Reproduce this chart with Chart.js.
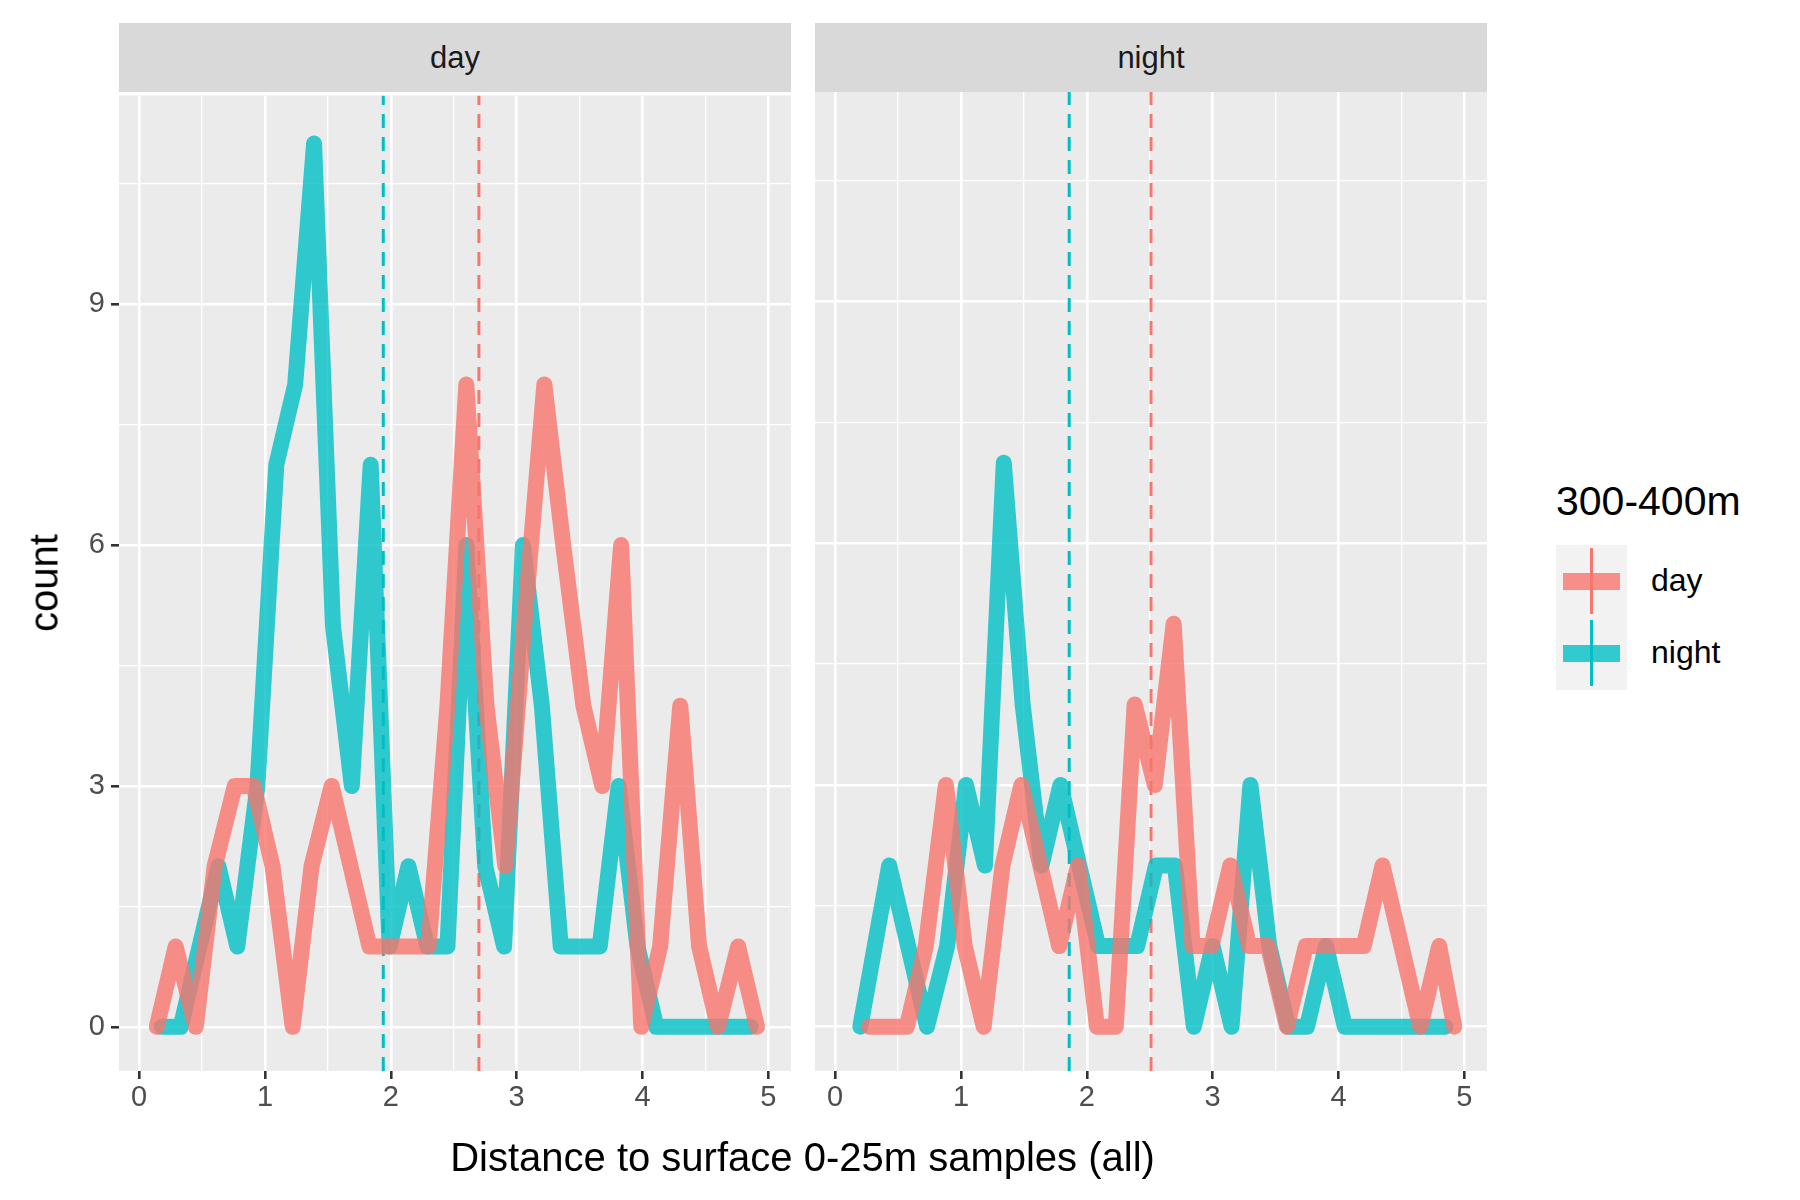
<!DOCTYPE html>
<html>
<head>
<meta charset="utf-8">
<script src="https://cdn.jsdelivr.net/npm/chart.js@4"></script>
<style>
  body { margin: 0; width: 1800px; height: 1200px; background: #fff; position: relative; font-family: "Liberation Sans", Arial, sans-serif; overflow: hidden; }
  .box { position: absolute; }
  .strip { position: absolute; background: #D9D9D9; color: #1a1a1a; font-size: 31px; text-align: center; line-height: 69px; height: 69px; }
  .lab { position: absolute; color: #000; font-size: 40px; }
</style>
</head>
<body>
<div class="strip" style="left:119px;top:23px;width:672px;">day</div>
<div class="strip" style="left:815px;top:23px;width:672px;">night</div>
<div class="box" style="left:30px;top:72px;width:761px;height:1071px;"><canvas id="dayChart"></canvas></div>
<div class="box" style="left:815px;top:92px;width:672px;height:1051px;"><canvas id="nightChart"></canvas></div>
<div class="lab" style="left:0;top:1135px;width:1605px;text-align:center;">Distance to surface 0-25m samples (all)</div>
<div class="lab" style="left:44px;top:583px;transform:translate(-50%,-50%) rotate(-90deg);">count</div>

<!-- legend -->
<div class="lab" style="left:1556px;top:478px;font-size:41px;">300-400m</div>
<div class="box" style="left:1556px;top:545px;width:71px;height:145px;background:#F2F2F2;"></div>
<div class="box" style="left:1563px;top:573px;width:57px;height:17px;background:rgba(248,118,109,0.8);"></div>
<div class="box" style="left:1590px;top:548px;width:3px;height:66px;background:#F8766D;"></div>
<div class="box" style="left:1563px;top:645px;width:57px;height:17px;background:rgba(0,191,196,0.8);"></div>
<div class="box" style="left:1590px;top:620px;width:3px;height:66px;background:#00BFC4;"></div>
<div class="lab" style="left:1651px;top:562px;font-size:32px;">day</div>
<div class="lab" style="left:1651px;top:634px;font-size:32px;">night</div>

<script>
// day panel, day samples
const dayDayX = [0.14, 0.29, 0.45, 0.60, 0.76, 0.91, 1.06, 1.22, 1.37, 1.53, 1.68, 1.83, 1.99, 2.14, 2.30, 2.45,
  2.60, 2.76, 2.91, 3.06, 3.22, 3.37, 3.53, 3.68, 3.83, 3.99, 4.14, 4.30, 4.45, 4.60, 4.76, 4.91];
const dayDayY = [0, 1, 0, 2, 3, 3, 2, 0, 2, 3, 2, 1, 1, 1, 1, 4, 8, 4, 2, 5, 8, 6, 4, 3, 6, 0, 1, 4, 1, 0, 1, 0];
// day panel, night samples
const dayNightX = [0.18, 0.33, 0.48, 0.63, 0.78, 0.94, 1.09, 1.24, 1.39, 1.54, 1.69, 1.84, 1.99, 2.14, 2.29, 2.45,
  2.60, 2.75, 2.90, 3.05, 3.20, 3.35, 3.51, 3.66, 3.81, 3.96, 4.11, 4.26, 4.41, 4.56, 4.71, 4.86];
const dayNightY = [0, 0, 1, 2, 1, 3, 7, 8, 11, 5, 3, 7, 1, 2, 1, 1, 6, 2, 1, 6, 4, 1, 1, 1, 3, 1, 0, 0, 0, 0, 0, 0];
// night panel, day samples
const nightDayX = [0.27, 0.42, 0.57, 0.72, 0.88, 1.03, 1.18, 1.33, 1.48, 1.63, 1.78, 1.93, 2.08, 2.23, 2.38, 2.54,
  2.69, 2.84, 2.99, 3.14, 3.29, 3.44, 3.59, 3.74, 3.89, 4.05, 4.20, 4.35, 4.50, 4.65, 4.80, 4.92];
const nightDayY = [0, 0, 0, 1, 3, 1, 0, 2, 3, 2, 1, 2, 0, 0, 4, 3, 5, 1, 1, 2, 1, 1, 0, 1, 1, 1, 1, 2, 1, 0, 1, 0];
// night panel, night samples
const nightNightX = [0.20, 0.43, 0.58, 0.73, 0.89, 1.04, 1.19, 1.34, 1.49, 1.64, 1.79, 1.94, 2.09, 2.24, 2.40, 2.55,
  2.70, 2.85, 3.00, 3.15, 3.30, 3.45, 3.60, 3.75, 3.90, 4.05, 4.20, 4.35, 4.50, 4.65, 4.80, 4.85];
const nightNightY = [0, 2, 1, 0, 1, 3, 2, 7, 4, 2, 3, 2, 1, 1, 1, 2, 2, 0, 1, 0, 3, 1, 0, 0, 1, 0, 0, 0, 0, 0, 0, 0];
// mean lines [day, night]
const dayMeans = [2.70, 1.94];
const nightMeans = [2.51, 1.86];

const xTicks = [0, 0.5, 1, 1.5, 2, 2.5, 3, 3.5, 4, 4.5, 5];
const yTicks = [0, 1.5, 3, 4.5, 6, 7.5, 9, 10.5];
const RED = "#F8766D", CYAN = "#00BFC4";

const pts = (xs, ys) => xs.map((x, i) => ({ x: x, y: ys[i] }));
const isMajor = (v) => Number.isInteger(v);

const panelBg = {
  id: "panelBg",
  beforeDraw: (chart) => {
    const a = chart.chartArea, ctx = chart.ctx;
    ctx.save();
    ctx.fillStyle = "#EBEBEB";
    ctx.fillRect(a.left, a.top, a.right - a.left, a.bottom - a.top);
    ctx.restore();
  },
};

function makePanel(id, redX, redY, cyanX, cyanY, means, showY) {
  const line = (data, color) => ({
    data: data, borderColor: color, borderWidth: 16, showLine: true, pointRadius: 0,
    tension: 0, borderCapStyle: "round", borderJoinStyle: "round",
  });
  const vline = (x, color) => ({
    data: [{ x: x, y: -0.55 }, { x: x, y: 11.6 }], borderColor: color, borderWidth: 3,
    borderDash: [14, 9], showLine: true, pointRadius: 0,
  });
  new Chart(document.getElementById(id), {
    type: "scatter",
    data: {
      datasets: [
        line(pts(redX, redY), "rgba(248,118,109,0.8)"),
        line(pts(cyanX, cyanY), "rgba(0,191,196,0.8)"),
        vline(means[0], RED),
        vline(means[1], CYAN),
      ],
    },
    options: {
      responsive: true,
      maintainAspectRatio: false,
      animation: false,
      layout: { padding: 0 },
      plugins: { legend: { display: false }, tooltip: { enabled: false } },
      scales: {
        x: {
          type: "linear", min: -0.16, max: 5.18,
          afterBuildTicks: (s) => { s.ticks = xTicks.map((v) => ({ value: v })); },
          afterFit: (s) => { s.height = 72; },
          border: { display: false },
          grid: {
            color: "#FFFFFF",
            lineWidth: (c) => (isMajor(c.tick.value) ? 2.6 : 1.3),
            tickColor: (c) => (isMajor(c.tick.value) ? "#333333" : "rgba(0,0,0,0)"),
            tickLength: 8,
          },
          ticks: {
            color: "#4D4D4D", font: { family: "Liberation Sans", size: 29 }, padding: 2,
            maxRotation: 0, autoSkip: false,
            callback: (v) => (isMajor(v) ? v : ""),
          },
        },
        y: {
          type: "linear", min: -0.55, max: 11.6,
          afterBuildTicks: (s) => { s.ticks = yTicks.map((v) => ({ value: v })); },
          afterFit: (s) => { s.width = showY ? 89 : 0; },
          border: { display: false },
          grid: {
            color: "#FFFFFF",
            lineWidth: (c) => (c.tick.value % 3 === 0 ? 2.6 : 1.3),
            drawTicks: showY,
            tickColor: (c) => (c.tick.value % 3 === 0 ? "#333333" : "rgba(0,0,0,0)"),
            tickLength: 8,
          },
          ticks: {
            display: showY, color: "#4D4D4D", font: { family: "Liberation Sans", size: 29 }, padding: 6,
            autoSkip: false,
            callback: (v) => (v % 3 === 0 ? v : ""),
          },
        },
      },
    },
    plugins: [panelBg],
  });
}

makePanel("dayChart", dayDayX, dayDayY, dayNightX, dayNightY, dayMeans, true);
makePanel("nightChart", nightDayX, nightDayY, nightNightX, nightNightY, nightMeans, false);
</script>
</body>
</html>
